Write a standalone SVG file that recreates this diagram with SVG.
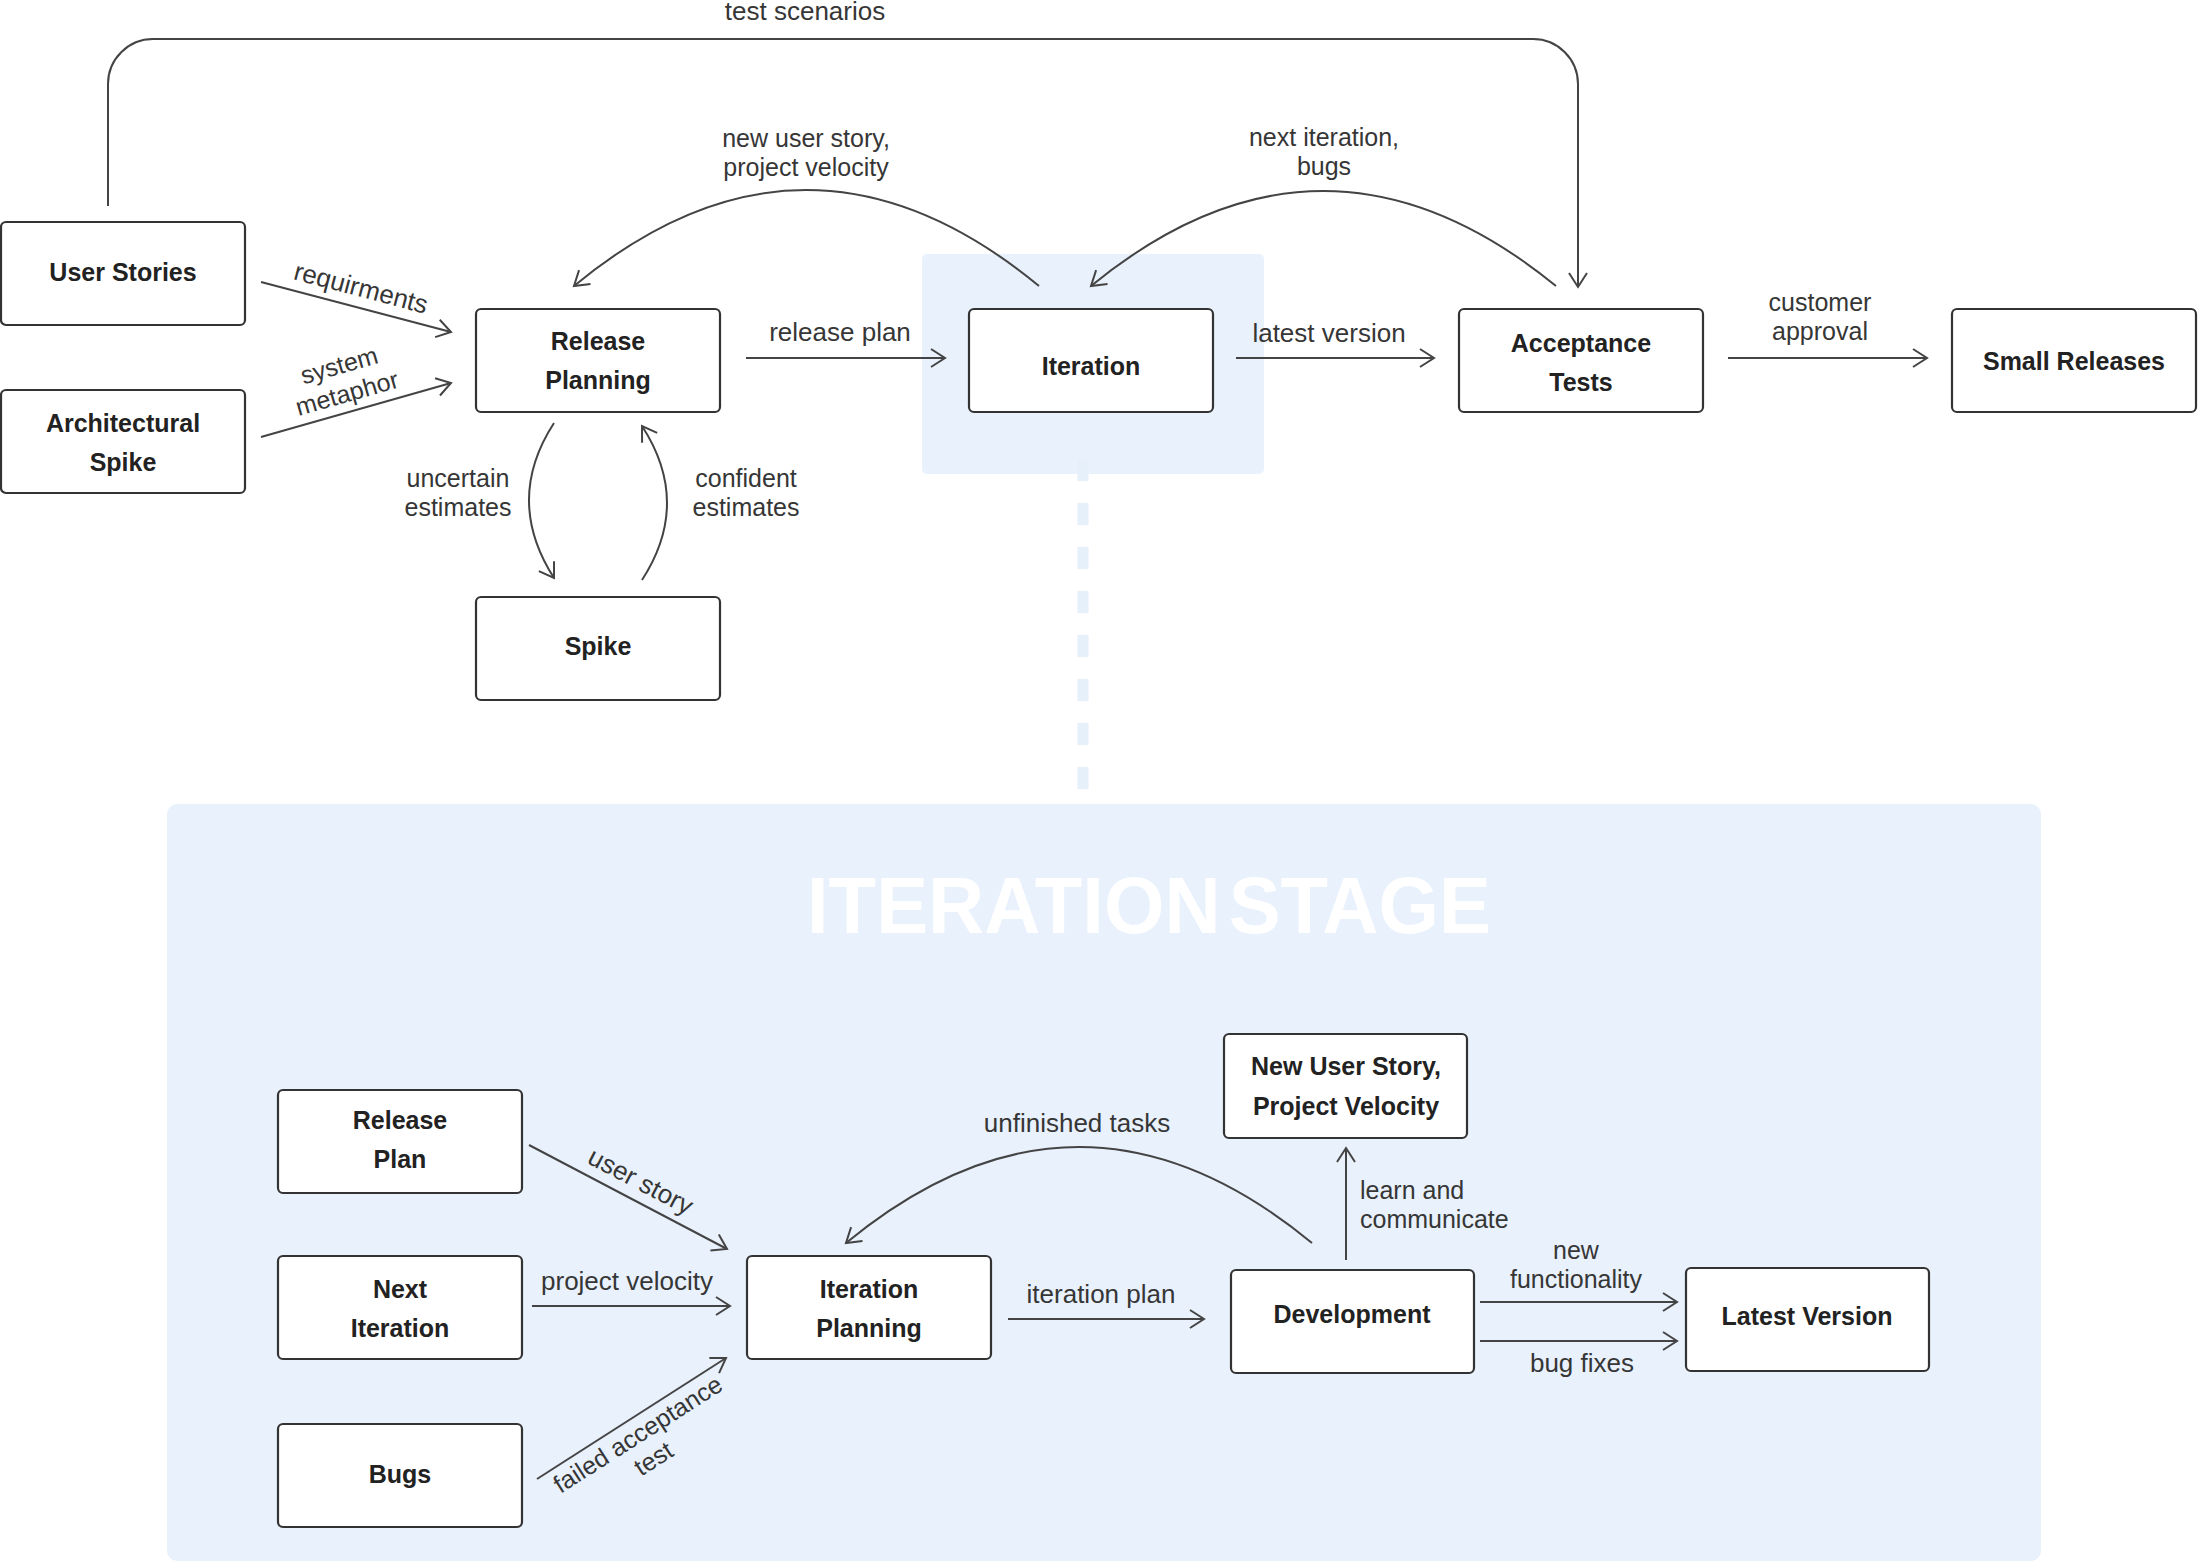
<svg xmlns="http://www.w3.org/2000/svg" width="2202" height="1563" viewBox="0 0 2202 1563">
  <defs>
    <style>
      .node rect { fill: #ffffff; stroke: #333333; stroke-width: 2.2; }
      .nl { font-family: "Liberation Sans", Arial, sans-serif; font-weight: bold; font-size: 25px; fill: #222222; text-anchor: middle; }
      .el { font-family: "Liberation Sans", Arial, sans-serif; font-size: 26px; fill: #363636; text-anchor: middle; }
      .el .ml { font-size: 25px; }
      .conn path { fill: none; stroke: #444444; stroke-width: 2; marker-end: url(#arrow); }
      .zone { fill: #e8f1fc; }
    </style>
    <marker id="arrow" markerUnits="userSpaceOnUse" markerWidth="22" markerHeight="24" refX="17" refY="11" orient="auto">
      <path d="M3,2 L17,11 L3,20" fill="none" stroke="#444444" stroke-width="2"/>
    </marker>
  </defs>

  <rect width="2202" height="1563" fill="#ffffff"/>

  <!-- backdrop: iteration highlight, drill-down guide, iteration stage panel -->
  <g id="backdrop">
    <rect class="zone" x="922" y="254" width="342" height="220" rx="5"/>
    <line x1="1083" y1="459" x2="1083" y2="790" stroke="#e6f0fb" stroke-width="11" stroke-dasharray="22 22"/>
    <rect class="zone" x="167" y="804" width="1874" height="757" rx="10"/>
    <text x="1149" y="933" font-family="'Liberation Sans', Arial, sans-serif" font-weight="bold" font-size="80" word-spacing="-14" fill="#ffffff" text-anchor="middle" textLength="684" lengthAdjust="spacingAndGlyphs">ITERATION STAGE</text>
  </g>

  <!-- connectors -->
  <g id="connectors" class="conn">
    <path d="M108,206 V84 A45,45 0 0 1 153,39 H1533 A45,45 0 0 1 1578,84 V287"/>
    <path d="M261,282 L451,332"/>
    <path d="M261,437 L451,383"/>
    <path d="M746,358 H945"/>
    <path d="M1236,358 H1434"/>
    <path d="M1728,358 H1927"/>
    <path d="M1039,286 Q806,94 574,286"/>
    <path d="M1556,286 Q1323,96 1091,286"/>
    <path d="M554,423 Q504,500 554,578"/>
    <path d="M642,580 Q692,503 642,426"/>

    <path d="M529,1145 L727,1249"/>
    <path d="M532,1306 H730"/>
    <path d="M537,1479 L726,1358"/>
    <path d="M1008,1319 H1204"/>
    <path d="M1312,1243 Q1079,1051 846,1243"/>
    <path d="M1346,1260 V1148"/>
    <path d="M1480,1302 H1677"/>
    <path d="M1480,1341 H1677"/>
  </g>

  <!-- connector labels -->
  <g id="connector-labels" class="el">
    <text x="805" y="20">test scenarios</text>
    <text x="356" y="296" transform="rotate(14.7 356 307)">requirments</text>
    <g transform="rotate(-15.9 356 410)">
      <text class="ml" x="352" y="371">system</text>
      <text class="ml" x="352" y="400">metaphor</text>
    </g>
    <text x="840" y="341">release plan</text>
    <text x="1329" y="342">latest version</text>
    <text class="ml" x="1820" y="311">customer</text>
    <text class="ml" x="1820" y="340">approval</text>
    <text class="ml" x="806" y="147">new user story,</text>
    <text class="ml" x="806" y="176">project velocity</text>
    <text class="ml" x="1324" y="146">next iteration,</text>
    <text class="ml" x="1324" y="175">bugs</text>
    <text class="ml" x="458" y="487">uncertain</text>
    <text class="ml" x="458" y="516">estimates</text>
    <text class="ml" x="746" y="487">confident</text>
    <text class="ml" x="746" y="516">estimates</text>

    <text x="632" y="1186" transform="rotate(27.7 628 1197)">user story</text>
    <text x="627" y="1290">project velocity</text>
    <g transform="rotate(-32.6 631 1418)">
      <text class="ml" x="628" y="1444">failed acceptance</text>
      <text class="ml" x="628" y="1473">test</text>
    </g>
    <text x="1101" y="1303">iteration plan</text>
    <text x="1077" y="1132">unfinished tasks</text>
    <text class="ml" x="1360" y="1199" text-anchor="start">learn and</text>
    <text class="ml" x="1360" y="1228" text-anchor="start">communicate</text>
    <text class="ml" x="1576" y="1259">new</text>
    <text class="ml" x="1576" y="1288">functionality</text>
    <text x="1582" y="1372">bug fixes</text>
  </g>

  <!-- release cycle nodes -->
  <g id="user-stories" class="node">
    <rect x="1" y="222" width="244" height="103" rx="5"/>
    <text class="nl" x="123" y="281">User Stories</text>
  </g>
  <g id="architectural-spike" class="node">
    <rect x="1" y="390" width="244" height="103" rx="5"/>
    <text class="nl" x="123" y="432">Architectural</text>
    <text class="nl" x="123" y="471">Spike</text>
  </g>
  <g id="release-planning" class="node">
    <rect x="476" y="309" width="244" height="103" rx="5"/>
    <text class="nl" x="598" y="350">Release</text>
    <text class="nl" x="598" y="389">Planning</text>
  </g>
  <g id="spike" class="node">
    <rect x="476" y="597" width="244" height="103" rx="5"/>
    <text class="nl" x="598" y="655">Spike</text>
  </g>
  <g id="iteration" class="node">
    <rect x="969" y="309" width="244" height="103" rx="5"/>
    <text class="nl" x="1091" y="375">Iteration</text>
  </g>
  <g id="acceptance-tests" class="node">
    <rect x="1459" y="309" width="244" height="103" rx="5"/>
    <text class="nl" x="1581" y="352">Acceptance</text>
    <text class="nl" x="1581" y="391">Tests</text>
  </g>
  <g id="small-releases" class="node">
    <rect x="1952" y="309" width="244" height="103" rx="5"/>
    <text class="nl" x="2074" y="370">Small Releases</text>
  </g>

  <!-- iteration stage nodes -->
  <g id="release-plan" class="node">
    <rect x="278" y="1090" width="244" height="103" rx="5"/>
    <text class="nl" x="400" y="1129">Release</text>
    <text class="nl" x="400" y="1168">Plan</text>
  </g>
  <g id="next-iteration" class="node">
    <rect x="278" y="1256" width="244" height="103" rx="5"/>
    <text class="nl" x="400" y="1298">Next</text>
    <text class="nl" x="400" y="1337">Iteration</text>
  </g>
  <g id="bugs" class="node">
    <rect x="278" y="1424" width="244" height="103" rx="5"/>
    <text class="nl" x="400" y="1483">Bugs</text>
  </g>
  <g id="iteration-planning" class="node">
    <rect x="747" y="1256" width="244" height="103" rx="5"/>
    <text class="nl" x="869" y="1298">Iteration</text>
    <text class="nl" x="869" y="1337">Planning</text>
  </g>
  <g id="development" class="node">
    <rect x="1231" y="1270" width="243" height="103" rx="5"/>
    <text class="nl" x="1352" y="1323">Development</text>
  </g>
  <g id="new-user-story" class="node">
    <rect x="1224" y="1034" width="243" height="104" rx="5"/>
    <text class="nl" x="1346" y="1075">New User Story,</text>
    <text class="nl" x="1346" y="1115">Project Velocity</text>
  </g>
  <g id="latest-version" class="node">
    <rect x="1686" y="1268" width="243" height="103" rx="5"/>
    <text class="nl" x="1807" y="1325">Latest Version</text>
  </g>
</svg>
